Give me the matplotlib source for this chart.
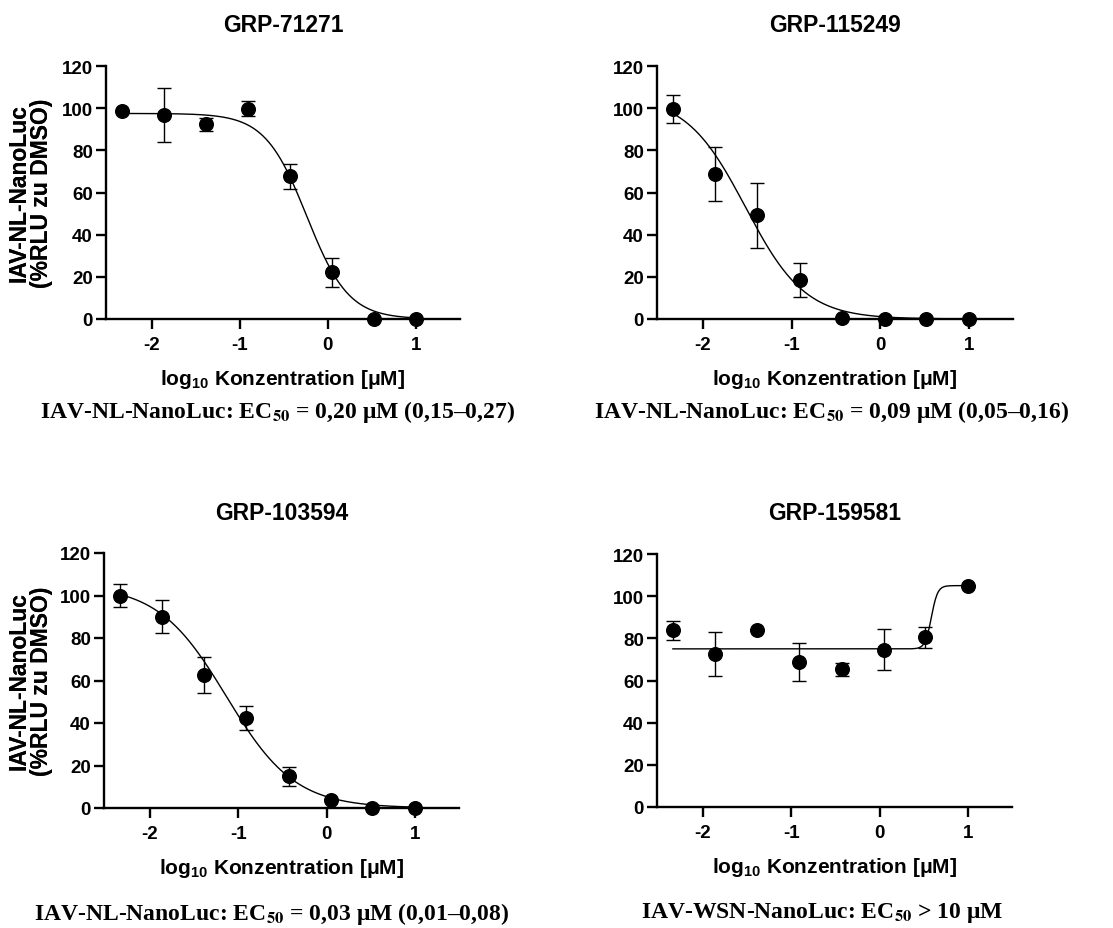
import numpy as np
import matplotlib
matplotlib.use('Agg')
import matplotlib.pyplot as plt

plt.rcParams['font.family'] = ['Liberation Sans', 'DejaVu Sans']
plt.rcParams['font.weight'] = 'bold'
plt.rcParams['mathtext.fontset'] = 'custom'
plt.rcParams['mathtext.rm'] = 'Liberation Sans:bold'
plt.rcParams['mathtext.bf'] = 'Liberation Sans:bold'
plt.rcParams['mathtext.it'] = 'Liberation Sans:bold'

# log10 concentration [uM], 3-fold dilution series
log_conc = [-2.34, -1.86, -1.39, -0.91, -0.43, 0.05, 0.52, 1.0]

titles = ['GRP-71271', 'GRP-115249', 'GRP-103594', 'GRP-159581']
captions = [
    r'IAV-NL-NanoLuc: EC$_{\mathbf{50}}$ = 0,20 μM (0,15–0,27)',
    r'IAV-NL-NanoLuc: EC$_{\mathbf{50}}$ = 0,09 μM (0,05–0,16)',
    r'IAV-NL-NanoLuc: EC$_{\mathbf{50}}$ = 0,03 μM (0,01–0,08)',
    r'IAV-WSN-NanoLuc: EC$_{\mathbf{50}}$ > 10 μM',
]

# mean % RLU relative to DMSO
mean_71271 = [98.6, 96.6, 92.3, 99.8, 67.6, 22.1, 0.0, 0.0]
mean_115249 = [99.6, 68.9, 49.2, 18.5, 0.4, 0.0, 0.0, 0.0]
mean_103594 = [100.0, 90.0, 62.6, 42.2, 14.9, 3.8, 0.2, 0.0]
mean_159581 = [83.8, 72.4, 83.8, 69.0, 65.3, 74.5, 80.4, 104.8]

# error bars (+/-)
err_71271 = [0.0, 12.8, 3.0, 3.5, 6.0, 7.0, 0.0, 0.0]
err_115249 = [6.8, 12.9, 15.3, 8.2, 0.0, 0.0, 0.0, 0.0]
err_103594 = [5.5, 7.7, 8.5, 5.7, 4.6, 0.0, 0.0, 0.0]
err_159581 = [4.6, 10.4, 0.0, 9.0, 3.2, 9.7, 4.8, 0.0]

# 4PL fit parameters: bottom, top, logEC50, hill slope
fit_71271 = (0.0, 97.5, -0.24, -1.83)
fit_115249 = (0.0, 106.0, -1.52, -1.29)
fit_103594 = (0.0, 105.0, -1.134, -1.12)
fit_159581 = (75.0, 105.0, 0.587, 12.3)

means = [mean_71271, mean_115249, mean_103594, mean_159581]
errs = [err_71271, err_115249, err_103594, err_159581]
fits = [fit_71271, fit_115249, fit_103594, fit_159581]


def four_pl(x, bottom, top, logec50, hill):
    return bottom + (top - bottom) / (1 + 10 ** ((logec50 - x) * hill))


W, H = 1113, 929
fig = plt.figure(figsize=(W / 100, H / 100), dpi=100)

# axes boxes in pixels: left, right, top, bottom
boxes = [(106, 460, 67, 320), (657, 1013, 67, 320),
         (104, 459, 554, 809), (657, 1012, 555, 808)]
title_y = [32, 32, 520, 520]
cap_pos = [(278, 418), (832, 418), (272, 920), (822, 918)]

for i in range(4):
    l, r, t, b = boxes[i]
    ax = fig.add_axes([l / W, 1 - b / H, (r - l) / W, (b - t) / H])

    xs = np.linspace(log_conc[0], log_conc[-1], 400)
    ax.plot(xs, four_pl(xs, *fits[i]), color='black', lw=1.0, clip_on=False, zorder=2)
    ax.errorbar(log_conc, means[i], yerr=errs[i], fmt='o', color='black',
                ms=9.8, elinewidth=1.0, capsize=5, capthick=1.0,
                clip_on=False, zorder=3)

    ax.set_xlim(-2.52, 1.5)
    ax.set_ylim(0, 120)
    ax.set_xticks([-2, -1, 0, 1])
    ax.set_xticklabels(['-2', '-1', '0', '1'])
    ax.set_yticks(range(0, 121, 20))
    for s in ['top', 'right']:
        ax.spines[s].set_visible(False)
    for s in ['left', 'bottom']:
        ax.spines[s].set_linewidth(1.7)
    ax.tick_params(width=1.7, length=7.5, labelsize=13.5)
    ax.tick_params(axis='x', pad=5)
    ax.tick_params(axis='y', pad=2)
    for lab in ax.get_xticklabels() + ax.get_yticklabels():
        lab.set_fontweight('bold')

    ax.set_ylabel('IAV-NL-NanoLuc\n(%RLU zu DMSO)', fontsize=16.5,
                  fontweight='bold', linespacing=0.95)
    ax.yaxis.set_label_coords(-(l - 53) / (r - l), 0.5)
    ax.set_xlabel(r'log$_{\mathbf{10}}$ Konzentration [μM]', fontsize=15,
                  fontweight='bold')
    ax.xaxis.set_label_coords(0.5, -48 / (b - t))

    fig.text((l + r) / 2 / W, 1 - title_y[i] / H, titles[i], ha='center',
             va='baseline', fontsize=16.5, fontweight='bold')
    fig.text(cap_pos[i][0] / W, 1 - cap_pos[i][1] / H, captions[i], ha='center',
             va='baseline', fontsize=17, fontweight='bold',
             family='Liberation Serif', math_fontfamily='stix')

fig.savefig('out.png', dpi=100)
